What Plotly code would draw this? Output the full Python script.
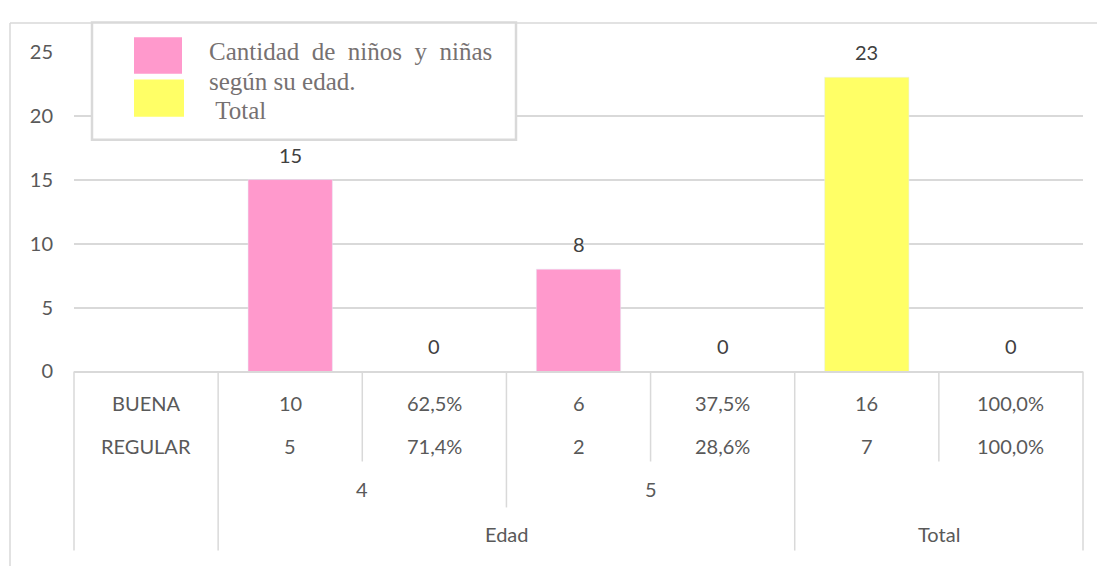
import plotly.graph_objects as go

# ---------------- data ----------------
column_groups = ["4", "4", "5", "5", "Total", "Total"]
bar_values = [15, 0, 8, 0, 23, 0]
bar_series = ["edad", "edad", "edad", "edad", "total", "total"]
series_names = {"edad": "Cantidad de niños y niñas según su edad.", "total": " Total"}
row_labels = ["BUENA", "REGULAR"]
buena_values = ["10", "62,5%", "6", "37,5%", "16", "100,0%"]
regular_values = ["5", "71,4%", "2", "28,6%", "7", "100,0%"]
age_labels = ["4", "5"]
outer_labels = ["Edad", "Total"]
y_ticks = [0, 5, 10, 15, 20, 25]

# ---------------- style (screen pixel positions) ----------------
W, H = 1105, 566
OX, OY = 8, 8          # page offset of the figure
PL, PR, PT, PB = 74, 1083, 40, 374
GRID = "#D9D9D9"
TXT = "#595959"
FONT = "Lato"
COLORS = {"edad": "#FF99CC", "total": "#FFFF66"}
NCOL = len(bar_values) + 1  # first column holds row labels


def px(x):
    return (x - OX) / W


def py(y):
    return 1 - (y - OY) / H


def col_edge(k):
    return PL + k * (PR - PL) / NCOL


def col_center(k):
    return PL + (k + 0.5) * (PR - PL) / NCOL


fig = go.Figure()

positions = list(range(1, len(bar_values) + 1))
for key in ["edad", "total"]:
    xs = [p for p, s in zip(positions, bar_series) if s == key]
    ys = [v for v, s in zip(bar_values, bar_series) if s == key]
    fig.add_trace(go.Bar(x=xs, y=ys, name=series_names[key], marker_color=COLORS[key],
                         width=0.585, showlegend=False))

annotations = []
shapes = []


def label(x, y, text, **kw):
    d = dict(x=px(x), y=py(y), xref="paper", yref="paper", text=text, showarrow=False,
             xanchor="center", yanchor="middle", font=dict(family=FONT, size=20, color=TXT))
    d.update(kw)
    annotations.append(d)


# data labels
for p, v in zip(positions, bar_values):
    annotations.append(dict(x=p, y=v, xref="x", yref="y", text=str(v), showarrow=False,
                            xanchor="center", yanchor="middle",
                            yshift=25, font=dict(family=FONT, size=20, color="#404040")))

# table text
row_y = [407, 452]
for r, (lab, vals) in enumerate(zip(row_labels, [buena_values, regular_values])):
    label(col_center(0), row_y[r], lab)
    for i, t in enumerate(vals):
        label(col_center(i + 1), row_y[r], t)


def group_span(name, groups):
    idx = [i + 1 for i, g in enumerate(groups) if g == name]
    return min(idx), max(idx) + 1


for a in age_labels:
    k0, k1 = group_span(a, column_groups)
    label((col_edge(k0) + col_edge(k1)) / 2, 497, a)
outer_groups = ["Edad" if g in age_labels else "Total" for g in column_groups]
for o in outer_labels:
    k0, k1 = group_span(o, outer_groups)
    label((col_edge(k0) + col_edge(k1)) / 2, 544, o)


# table lines
def vline(x, y0, y1):
    shapes.append(dict(type="line", xref="paper", yref="paper", x0=px(x), x1=px(x), y0=py(y0), y1=py(y1),
                       line=dict(color=GRID, width=1.5)))


for k in range(NCOL + 1):
    x = col_edge(k)
    if k in (0, 1, 5, 7):
        vline(x, PB, 561)
    elif k == 3:
        vline(x, PB, 516)
    else:
        vline(x, PB, 468)

# outer chart border (top & left)
shapes.append(dict(type="line", xref="paper", yref="paper", x0=px(10), x1=1.01, y0=py(10), y1=py(10),
                   line=dict(color=GRID, width=1.5)))
shapes.append(dict(type="line", xref="paper", yref="paper", x0=px(10), x1=px(10), y0=py(10), y1=-0.02,
                   line=dict(color=GRID, width=1.5)))

# legend box
shapes.append(dict(type="rect", xref="paper", yref="paper", x0=px(92), x1=px(516), y0=py(9.5), y1=py(132),
                   line=dict(color=GRID, width=2.5), fillcolor="white"))
shapes.append(dict(type="rect", xref="paper", yref="paper", x0=px(134), x1=px(182), y0=py(25), y1=py(63),
                   line=dict(width=0), fillcolor=COLORS["edad"]))
shapes.append(dict(type="rect", xref="paper", yref="paper", x0=px(134), x1=px(184), y0=py(69), y1=py(108),
                   line=dict(width=0), fillcolor=COLORS["total"]))

name_words = series_names["edad"].split(" ")
legend_lines = ["\u00a0\u00a0".join(name_words[:5]), " ".join(name_words[5:]),
                series_names["total"].replace(" ", "\u00a0")]
legend_y = [40, 71, 101]
for line, yy in zip(legend_lines, legend_y):
    label(207, yy, line, xanchor="left",
          font=dict(family="Liberation Serif", size=25, color="#767171"))

fig.update_layout(
    width=W, height=H,
    margin=dict(l=0, r=0, t=0, b=0),
    paper_bgcolor="white", plot_bgcolor="white",
    barmode="overlay",
    showlegend=False,
    xaxis=dict(domain=[px(PL), px(PR)], range=[-0.5, NCOL - 0.5], showticklabels=False, showgrid=False,
               zeroline=False, showline=True, linecolor=GRID, linewidth=1.5, ticks=""),
    yaxis=dict(domain=[py(PB), py(PT)], range=[0, 25], tickvals=y_ticks, showgrid=True, gridcolor=GRID,
               gridwidth=1.5, zeroline=False, ticks="", ticklabelstandoff=20,
               tickfont=dict(family=FONT, size=20, color=TXT)),
    annotations=annotations,
    shapes=shapes,
)

fig.write_html("out.html")
